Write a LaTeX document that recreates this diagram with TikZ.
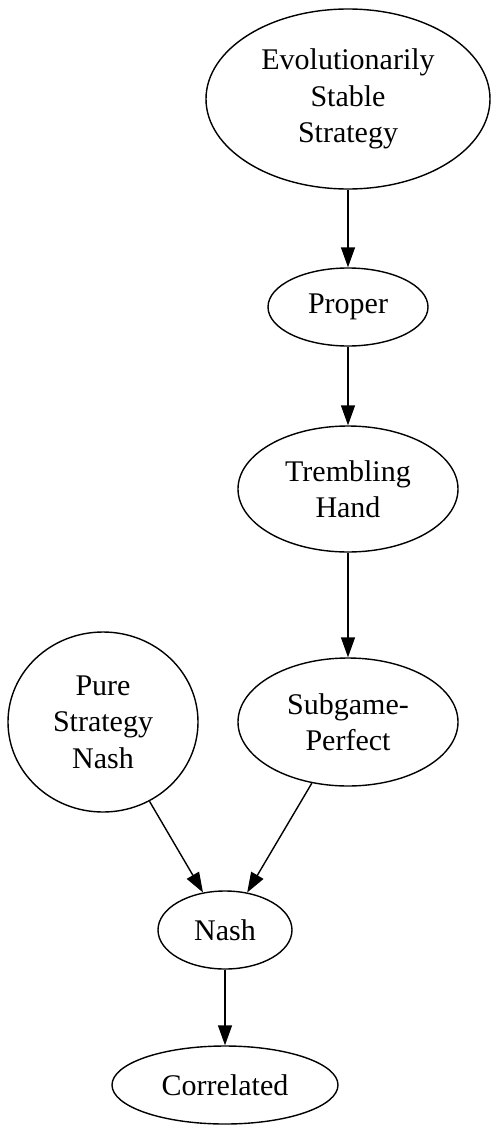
\documentclass[tikz,border=0pt]{standalone}
\usepackage{fontspec}
\setmainfont{Liberation Serif}
\usetikzlibrary{shapes.geometric,arrows.meta}
\begin{document}
\begin{tikzpicture}[x=0.5pt,y=-0.5pt,>={Triangle[length=10pt,width=7pt]},line join=round,font=\fontsize{15}{18.25}\selectfont,
	st/.style={draw,ellipse,line width=0.7pt,inner sep=0pt,align=center}]
		\useasboundingbox (0,0) rectangle (500,1135);
		\node[st,minimum width=142pt,minimum height=90pt] (ess) at (348,99) {Evolutionarily\\Stable\\Strategy};
		\node[st,minimum width=80pt,minimum height=39pt] (pr) at (348,307) {Proper};
		\node[st,minimum width=110pt,minimum height=63pt] (th) at (348,489) {Trembling\\Hand};
		\node[st,minimum width=110pt,minimum height=64pt] (sp) at (348,722) {Subgame-\\Perfect};
		\node[st,minimum width=95pt,minimum height=90pt] (psn) at (103,722) {Pure\\Strategy\\Nash};
		\node[st,minimum width=67pt,minimum height=39pt] (na) at (225,930) {Nash};
		\node[st,minimum width=113pt,minimum height=39pt] (co) at (225,1085) {Correlated};
		\draw[->,line width=0.7pt] (ess)--(pr);
		\draw[->,line width=0.7pt] (pr)--(th);
		\draw[->,line width=0.7pt] (th)--(sp);
		\draw[->,line width=0.7pt] (sp)--(na);
		\draw[->,line width=0.7pt] (psn)--(na);
		\draw[->,line width=0.7pt] (na)--(co);
		\end{tikzpicture}
\end{document}
